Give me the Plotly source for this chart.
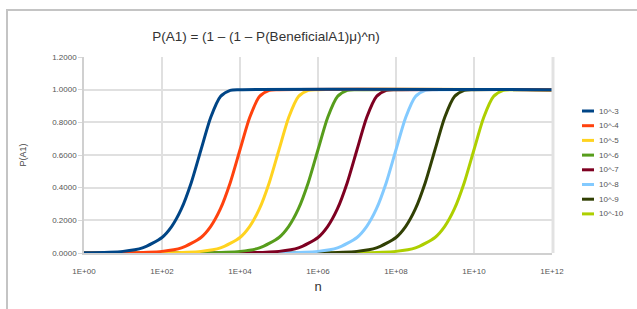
import plotly.graph_objects as go

# ---- data ----
series_names = ["10^-3", "10^-4", "10^-5", "10^-6", "10^-7", "10^-8", "10^-9", "10^-10"]
series_colors = ["#004586", "#ff420e", "#ffd320", "#579d1c", "#7e0021", "#83caff", "#314004", "#aecf00"]

n_e3 = [1, 1e1, 3.16e1, 1e2, 1.78e2, 3.16e2, 5.62e2, 1e3, 1.78e3, 3.16e3, 5.62e3, 1e4, 1e12]
p_e3 = [0.001, 0.010, 0.031, 0.095, 0.163, 0.271, 0.430, 0.632, 0.831, 0.958, 0.996, 1.0, 1.0]

n_e4 = [1, 1e1, 1e2, 3.16e2, 1e3, 1.78e3, 3.16e3, 5.62e3, 1e4, 1.78e4, 3.16e4, 5.62e4, 1e5, 1e12]
p_e4 = [0.0, 0.001, 0.010, 0.031, 0.095, 0.163, 0.271, 0.430, 0.632, 0.831, 0.958, 0.996, 1.0, 1.0]

n_e5 = [1, 1e2, 1e3, 3.16e3, 1e4, 1.78e4, 3.16e4, 5.62e4, 1e5, 1.78e5, 3.16e5, 5.62e5, 1e6, 1e12]
p_e5 = [0.0, 0.001, 0.010, 0.031, 0.095, 0.163, 0.271, 0.430, 0.632, 0.831, 0.958, 0.996, 1.0, 1.0]

n_e6 = [1, 1e3, 1e4, 3.16e4, 1e5, 1.78e5, 3.16e5, 5.62e5, 1e6, 1.78e6, 3.16e6, 5.62e6, 1e7, 1e12]
p_e6 = [0.0, 0.001, 0.010, 0.031, 0.095, 0.163, 0.271, 0.430, 0.632, 0.831, 0.958, 0.996, 1.0, 1.0]

n_e7 = [1, 1e4, 1e5, 3.16e5, 1e6, 1.78e6, 3.16e6, 5.62e6, 1e7, 1.78e7, 3.16e7, 5.62e7, 1e8, 1e12]
p_e7 = [0.0, 0.001, 0.010, 0.031, 0.095, 0.163, 0.271, 0.430, 0.632, 0.831, 0.958, 0.996, 1.0, 1.0]

n_e8 = [1, 1e5, 1e6, 3.16e6, 1e7, 1.78e7, 3.16e7, 5.62e7, 1e8, 1.78e8, 3.16e8, 5.62e8, 1e9, 1e12]
p_e8 = [0.0, 0.001, 0.010, 0.031, 0.095, 0.163, 0.271, 0.430, 0.632, 0.831, 0.958, 0.996, 1.0, 1.0]

n_e9 = [1, 1e6, 1e7, 3.16e7, 1e8, 1.78e8, 3.16e8, 5.62e8, 1e9, 1.78e9, 3.16e9, 5.62e9, 1e10, 1e12]
p_e9 = [0.0, 0.001, 0.010, 0.031, 0.095, 0.163, 0.271, 0.430, 0.632, 0.831, 0.958, 0.996, 1.0, 1.0]

n_e10 = [1, 1e7, 1e8, 3.16e8, 1e9, 1.78e9, 3.16e9, 5.62e9, 1e10, 1.78e10, 3.16e10, 5.62e10, 1e11, 1e12]
p_e10 = [0.0, 0.001, 0.010, 0.031, 0.095, 0.163, 0.271, 0.430, 0.632, 0.831, 0.958, 0.996, 1.0, 1.0]

x_tick_vals = [1, 1e2, 1e4, 1e6, 1e8, 1e10, 1e12]
x_tick_text = ["1E+00", "1E+02", "1E+04", "1E+06", "1E+08", "1E+10", "1E+12"]
y_tick_vals = [0, 0.2, 0.4, 0.6, 0.8, 1.0, 1.2]
y_tick_text = ["0.0000", "0.2000", "0.4000", "0.6000", "0.8000", "1.0000", "1.2000"]

title_text = "P(A1) = (1 – (1 – P(BeneficialA1)μ)^n)"

all_n = [n_e3, n_e4, n_e5, n_e6, n_e7, n_e8, n_e9, n_e10]
all_p = [p_e3, p_e4, p_e5, p_e6, p_e7, p_e8, p_e9, p_e10]

# ---- figure ----
W, H = 637, 309
L, R, T, B = 84, 552, 57, 253
PW, PH = R - L, B - T


def px(x):
    return (x - L) / PW


def py(y):
    return (B - y) / PH


fig = go.Figure()
# draw last series first so 10^-3 sits on top
for i in reversed(range(len(series_names))):
    fig.add_trace(go.Scatter(
        x=all_n[i], y=all_p[i], mode="lines", name=series_names[i],
        line=dict(color=series_colors[i], width=3, shape="spline", smoothing=0.7),
        showlegend=False,
    ))

font_family = "Liberation Sans, Arial, sans-serif"
grid = "#e0e0e0"

fig.update_layout(
    width=W, height=H,
    margin=dict(l=L, r=W - R, t=T, b=H - B, pad=0, autoexpand=False),
    paper_bgcolor="white", plot_bgcolor="white",
    font=dict(family=font_family, size=8, color="#555555"),
    title=dict(text=title_text, x=266 / W, xref="container", xanchor="center",
               y=1 - 36 / H, yref="container", yanchor="middle",
               font=dict(size=13.5, color="#333333", family=font_family)),
    xaxis=dict(type="log", range=[0, 12], tickvals=x_tick_vals, ticktext=x_tick_text,
               showgrid=True, gridcolor=grid, gridwidth=1.5,
               showline=True, linecolor="#d0d0d0", linewidth=1.5, mirror=False,
               ticks="outside", ticklen=10, tickcolor="rgba(0,0,0,0)",
               tickfont=dict(size=8, color="#555555"),
               title=dict(text="n", font=dict(size=13, color="#333333"), standoff=7),
               zeroline=False),
    yaxis=dict(range=[0, 1.2], tickvals=y_tick_vals, ticktext=y_tick_text,
               showgrid=True, gridcolor=grid, gridwidth=1.5,
               showline=True, linecolor="#d0d0d0", linewidth=1.5,
               ticks="outside", ticklen=4, tickcolor="#d8d8d8",
               tickfont=dict(size=8, color="#555555"),
               title=dict(text="P(A1)", font=dict(size=9, color="#444444"), standoff=24),
               zeroline=False),
    showlegend=False,
)

shapes = []
# right border shadow of plot area
shapes.append(dict(type="line", xref="paper", yref="paper", x0=px(553), x1=px(553), y0=0, y1=1,
                   line=dict(color="#e2e2e2", width=3)))
# outer chart frame: left edge and top edge (filled thin rectangles)
shapes.append(dict(type="rect", xref="paper", yref="paper", x0=px(6), x1=px(8),
                   y0=py(H + 20), y1=py(9), line=dict(width=0), fillcolor="#c4c4c4"))
shapes.append(dict(type="rect", xref="paper", yref="paper", x0=px(6), x1=px(W + 20),
                   y0=py(11), y1=py(9), line=dict(width=0), fillcolor="#c4c4c4"))

# legend (swatches + labels)
annotations = []
for i, (name, col) in enumerate(zip(series_names, series_colors)):
    yc = 111 + 14.7 * i
    shapes.append(dict(type="line", xref="paper", yref="paper", x0=px(582), x1=px(594),
                       y0=py(yc), y1=py(yc), line=dict(color=col, width=3)))
    annotations.append(dict(text=name, xref="paper", yref="paper", x=px(597), y=py(yc),
                            xanchor="left", yanchor="middle", showarrow=False,
                            font=dict(size=8, color="#555555")))

fig.update_layout(shapes=shapes, annotations=annotations)

fig.write_html("out.html", config={"displayModeBar": False},
               post_script="document.body.style.margin='0px';")
